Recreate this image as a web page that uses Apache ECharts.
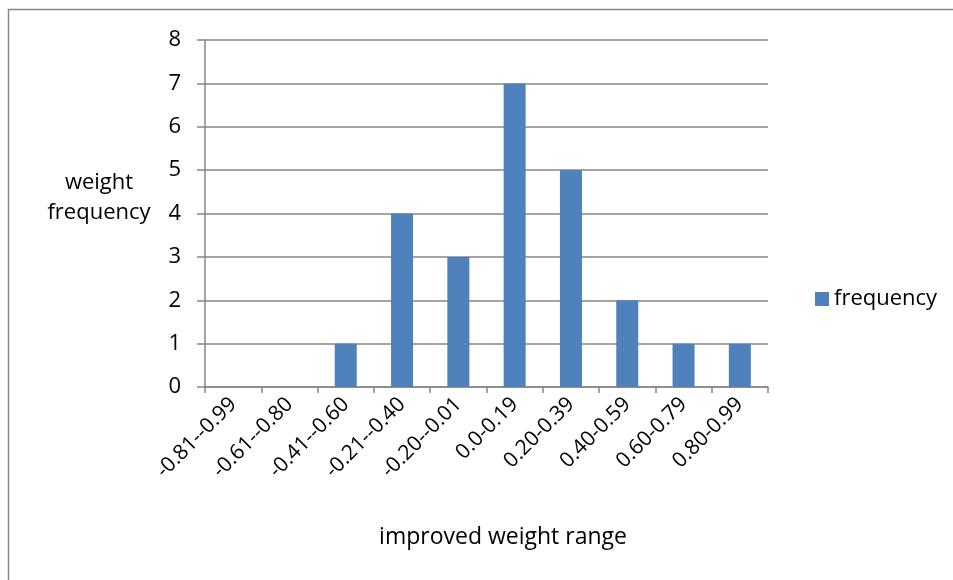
<!DOCTYPE html>
<html>
<head>
<meta charset="utf-8">
<script src="https://cdn.jsdelivr.net/npm/echarts@6/dist/echarts.min.js"></script>
<style>
  html, body { margin: 0; padding: 0; background: #fff; }
  #chart { width: 953px; height: 580px; }
</style>
</head>
<body>
<div id="chart"></div>
<script>
// Weight-range buckets and how many weights fall into each
const categories = ['-0.81--0.99', '-0.61--0.80', '-0.41--0.60', '-0.21--0.40', '-0.20--0.01',
                    '0.0-0.19', '0.20-0.39', '0.40-0.59', '0.60-0.79', '0.80-0.99'];
const frequency = [0, 0, 1, 4, 3, 7, 5, 2, 1, 1];
const yTicks = [0, 1, 2, 3, 4, 5, 6, 7, 8];

const FONT = 'Open Sans';
const GRID_GREY = '#868686';

const chart = echarts.init(document.getElementById('chart'), null, { renderer: 'canvas' });
chart.setOption({
  animation: false,
  backgroundColor: '#fff',
  textStyle: { fontFamily: FONT, color: '#000' },
  graphic: [
    {
      // chart-area frame
      type: 'rect',
      shape: { x: 8.5, y: 9.5, width: 1000, height: 700 },
      style: { fill: 'none', stroke: GRID_GREY, lineWidth: 1.5 },
      silent: true
    },
    {
      // vertical axis title, each line centred on x
      type: 'text',
      x: 99, y: 198,
      style: {
        text: 'weight\nfrequency',
        font: '22px "Open Sans"', fill: '#000',
        align: 'center', verticalAlign: 'middle', lineHeight: 30
      }
    },
    {
      // horizontal axis title
      type: 'text',
      x: 503, y: 537,
      style: {
        text: 'improved weight range', font: '23px "Open Sans"', fill: '#000',
        align: 'center', verticalAlign: 'middle'
      }
    }
  ],
  grid: { left: 205, right: 185, top: 40, bottom: 193, containLabel: false },
  legend: {
    left: 810, top: 283,
    itemWidth: 14, itemHeight: 14, itemGap: 8,
    icon: 'rect',
    textStyle: { fontFamily: FONT, fontSize: 22, color: '#000' },
    data: ['frequency']
  },
  xAxis: {
    type: 'category',
    data: categories,
    axisLine: { lineStyle: { color: GRID_GREY, width: 1.5 } },
    axisTick: { show: true, length: 6, alignWithLabel: false, lineStyle: { color: GRID_GREY, width: 1.5 } },
    axisLabel: { rotate: 45, interval: 0, fontFamily: FONT, fontSize: 21, color: '#000', margin: 14 }
  },
  yAxis: {
    type: 'value',
    min: yTicks[0], max: yTicks[yTicks.length - 1], interval: 1,
    axisLine: { show: true, lineStyle: { color: GRID_GREY, width: 1.5 } },
    axisTick: { show: true, length: 8, lineStyle: { color: GRID_GREY, width: 1.5 } },
    axisLabel: { fontFamily: FONT, fontSize: 22, color: '#000', margin: 24 },
    splitLine: { lineStyle: { color: GRID_GREY, width: 1.5 } }
  },
  series: [{
    name: 'frequency',
    type: 'bar',
    data: frequency,
    barWidth: 22,
    itemStyle: { color: '#4F81BD' }
  }]
});
</script>
</body>
</html>
